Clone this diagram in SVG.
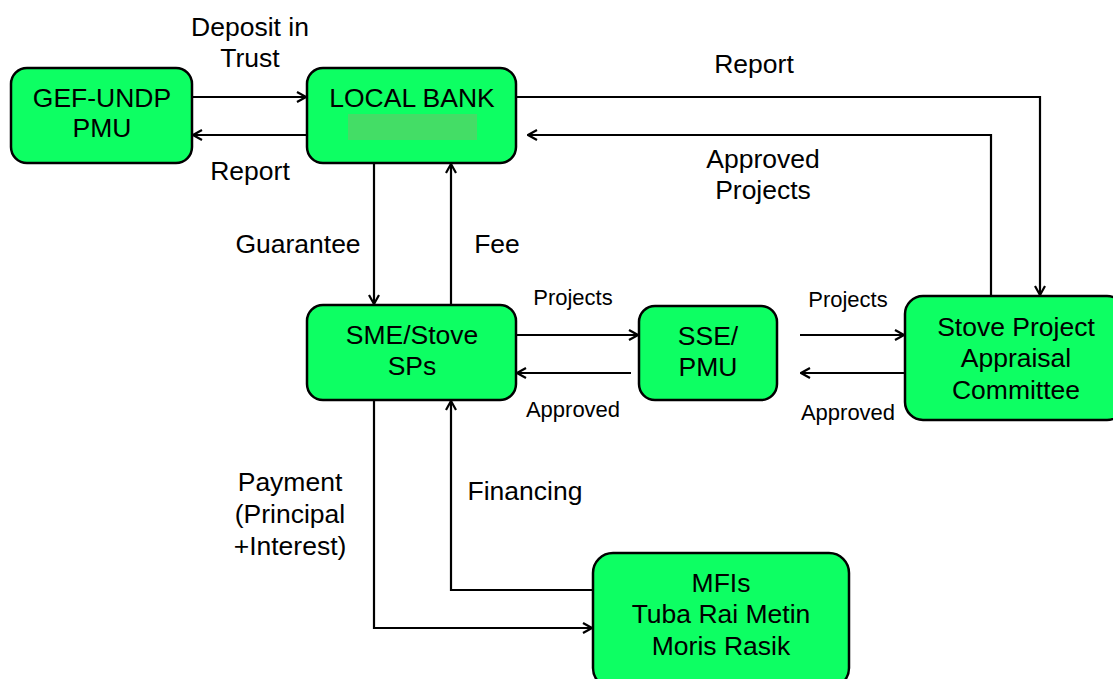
<svg xmlns="http://www.w3.org/2000/svg" width="1113" height="679" viewBox="0 0 1113 679">
<style>
.n{fill:#0dff63;stroke:#000;stroke-width:2.5}
.t{font-family:"Liberation Sans",Arial,sans-serif;font-size:26.5px;fill:#000;text-anchor:middle}
.s{font-size:22px}
.c path{fill:none;stroke:#000;stroke-width:2.2;marker-end:url(#a)}
</style>
<defs>
<marker id="a" viewBox="0 0 12 12" refX="11" refY="6" markerWidth="12" markerHeight="12" markerUnits="userSpaceOnUse" orient="auto">
<path d="M2,1 L11,6 L2,11" fill="none" stroke="#000" stroke-width="2.2"/>
</marker>
</defs>
<rect width="1113" height="679" fill="#fff"/>
<g class="c">
<path d="M192,97 H306"/>
<path d="M307,135 H193"/>
<path d="M516,97 H1040 V295"/>
<path d="M991,296 V135 H528"/>
<path d="M374,163 V304"/>
<path d="M451,305 V164"/>
<path d="M516,335 H638"/>
<path d="M631,373 H517"/>
<path d="M800,335 H904"/>
<path d="M905,373 H801"/>
<path d="M374,400 V628 H592"/>
<path d="M593,590 H451 V401"/>
</g>
<g id="gef"><rect class="n" x="11" y="68" width="181" height="95" rx="16"/>
<text class="t" x="102" y="107">GEF-UNDP</text><text class="t" x="102" y="137">PMU</text></g>
<g id="bank"><rect class="n" x="307" y="68" width="209" height="95" rx="16"/>
<text class="t" x="412" y="107">LOCAL BANK</text>
<rect x="348" y="114" width="129" height="26" fill="#44dd66"/></g>
<g id="sme"><rect class="n" x="307" y="305" width="209" height="95" rx="16"/>
<text class="t" x="412" y="344">SME/Stove</text><text class="t" x="412" y="375">SPs</text></g>
<g id="sse"><rect class="n" x="639" y="306" width="138" height="94" rx="16"/>
<text class="t" x="708" y="345">SSE/</text><text class="t" x="708" y="376">PMU</text></g>
<g id="stove"><rect class="n" x="905" y="296" width="220" height="124" rx="18"/>
<text class="t" x="1016" y="336">Stove Project</text><text class="t" x="1016" y="367">Appraisal</text><text class="t" x="1016" y="399">Committee</text></g>
<g id="mfi"><rect class="n" x="593" y="553" width="256" height="135" rx="20"/>
<text class="t" x="721" y="592">MFIs</text><text class="t" x="721" y="623">Tuba Rai Metin</text><text class="t" x="721" y="655">Moris Rasik</text></g>
<g id="labels">
<text class="t" x="250" y="36">Deposit in</text><text class="t" x="250" y="67">Trust</text>
<text class="t" x="250" y="180">Report</text>
<text class="t" x="754" y="73">Report</text>
<text class="t" x="763" y="168">Approved</text><text class="t" x="763" y="199">Projects</text>
<text class="t" x="298" y="253">Guarantee</text>
<text class="t" x="497" y="253">Fee</text>
<text class="t s" x="573" y="305">Projects</text>
<text class="t s" x="573" y="417">Approved</text>
<text class="t s" x="848" y="307">Projects</text>
<text class="t s" x="848" y="420">Approved</text>
<text class="t" x="290" y="491">Payment</text><text class="t" x="290" y="523">(Principal</text><text class="t" x="290" y="555">+Interest)</text>
<text class="t" x="525" y="500">Financing</text>
</g>
</svg>
